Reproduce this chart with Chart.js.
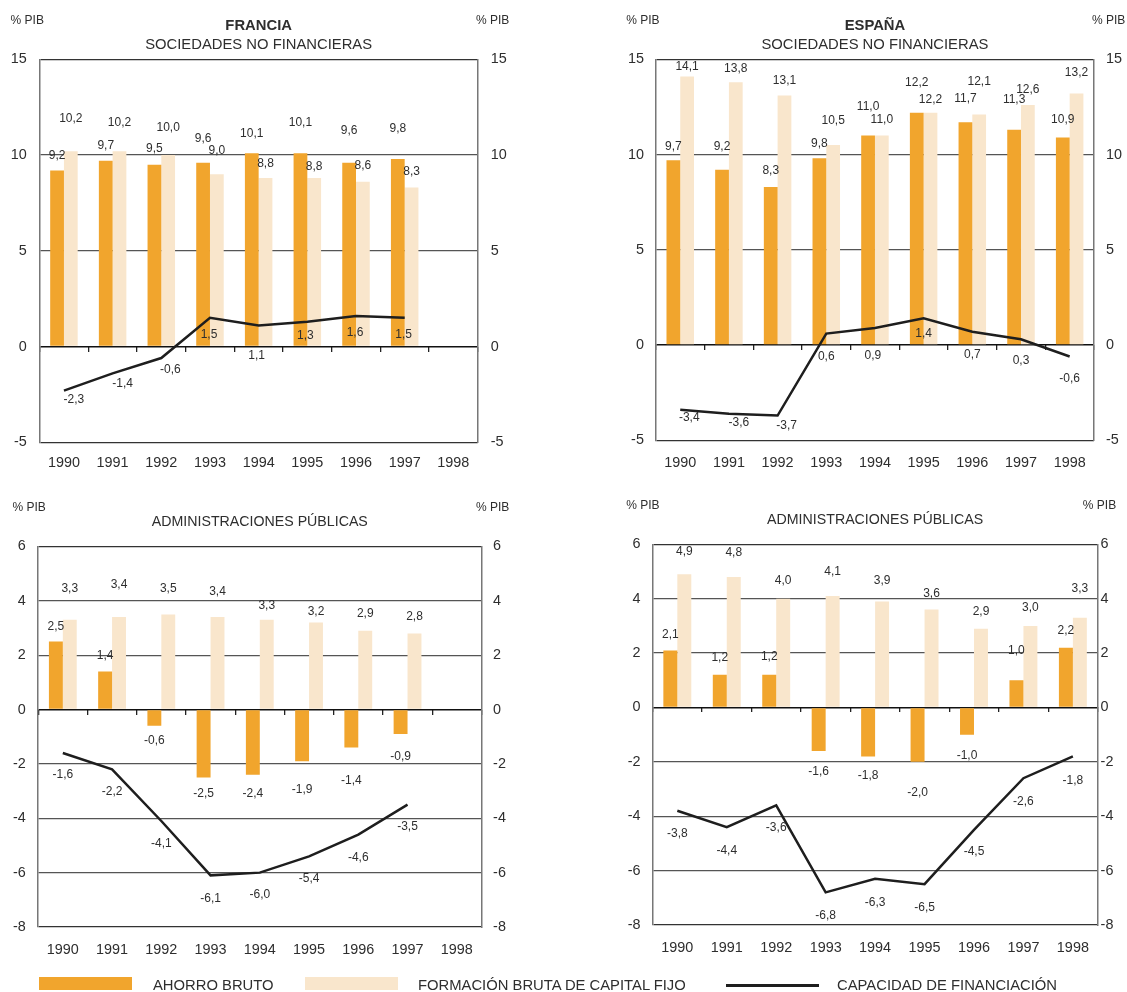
<!DOCTYPE html>
<html lang="es">
<head>
<meta charset="utf-8">
<title>Ahorro, inversión y capacidad de financiación — Francia y España</title>
<script src="https://cdn.jsdelivr.net/npm/chart.js@4.4.1/dist/chart.umd.min.js"></script>
<style>
  html, body { margin: 0; padding: 0; background: #ffffff; }
  body { width: 1127px; height: 992px; position: relative; overflow: hidden;
         font-family: "Liberation Sans", Arial, Helvetica, sans-serif; color: #2e2e2e; }
  canvas { position: absolute; }
  .swatch { position: absolute; top: 977px; height: 13px; width: 93px; }
  .keytext { position: absolute; top: 976px; line-height: 19px; font-size: 14.8px; white-space: nowrap; }
</style>
</head>
<body>
<canvas id="frSnf" width="560" height="480" style="left:0;top:0"></canvas>
<canvas id="esSnf" width="567" height="480" style="left:560px;top:0"></canvas>
<canvas id="frAp" width="560" height="512" style="left:0;top:480px"></canvas>
<canvas id="esAp" width="567" height="512" style="left:560px;top:480px"></canvas>

<div class="swatch" style="left:39px;background:#F1A52D"></div>
<div class="keytext" style="left:153px">AHORRO BRUTO</div>
<div class="swatch" style="left:305px;background:#F9E6CC"></div>
<div class="keytext" style="left:418px">FORMACIÓN BRUTA DE CAPITAL FIJO</div>
<div class="swatch" style="left:726px;top:984px;height:2.5px;background:#1e1e1e"></div>
<div class="keytext" style="left:837px">CAPACIDAD DE FINANCIACIÓN</div>

<script>
// ---- Data (% of GDP) ----
const years = ['1990', '1991', '1992', '1993', '1994', '1995', '1996', '1997', '1998'];

// Francia — sociedades no financieras
const frSnfAhorro    = [9.2, 9.7, 9.5, 9.6, 10.1, 10.1, 9.6, 9.8, null];
const frSnfFbcf      = [10.2, 10.2, 10.0, 9.0, 8.8, 8.8, 8.6, 8.3, null];
const frSnfCapacidad = [-2.3, -1.4, -0.6, 1.5, 1.1, 1.3, 1.6, 1.5, null];

// España — sociedades no financieras
const esSnfAhorro    = [9.7, 9.2, 8.3, 9.8, 11.0, 12.2, 11.7, 11.3, 10.9];
const esSnfFbcf      = [14.1, 13.8, 13.1, 10.5, 11.0, 12.2, 12.1, 12.6, 13.2];
const esSnfCapacidad = [-3.4, -3.6, -3.7, 0.6, 0.9, 1.4, 0.7, 0.3, -0.6];

// Francia — administraciones públicas
const frApAhorro    = [2.5, 1.4, -0.6, -2.5, -2.4, -1.9, -1.4, -0.9, null];
const frApFbcf      = [3.3, 3.4, 3.5, 3.4, 3.3, 3.2, 2.9, 2.8, null];
const frApCapacidad = [-1.6, -2.2, -4.1, -6.1, -6.0, -5.4, -4.6, -3.5, null];

// España — administraciones públicas
const esApAhorro    = [2.1, 1.2, 1.2, -1.6, -1.8, -2.0, -1.0, 1.0, 2.2];
const esApFbcf      = [4.9, 4.8, 4.0, 4.1, 3.9, 3.6, 2.9, 3.0, 3.3];
const esApCapacidad = [-3.8, -4.4, -3.6, -6.8, -6.3, -6.5, -4.5, -2.6, -1.8];

// Value-axis ticks
const snfTicks = [-5, 0, 5, 10, 15];
const apTicks  = [-8, -6, -4, -2, 0, 2, 4, 6];

// ---- Label nudges (px, relative to the end of each bar / each line point) ----
const frSnfNudge = {
  ahorro: [-15, -15, -16, -24, -19, -30, -32, -30, 0],
  fbcf:   [-33, -29, -27, -24, -14, -11, -16, -16, 0],
  capDy:  [9, 10, 12, 17, 30, 14, 17, 17, 0],
  capDx:  [10, 10, 9, -1, -2, -2, -1, -1, 0]
};
const esSnfNudge = {
  ahorro: [-14, -23, -16, -15, -29, -30, -23, -30, -18],
  fbcf:   [-10, -13, -15, -24, -16, -13, -33, -15, -21],
  capDy:  [8, 9, 10, 23, 28, 15, 23, 21, 22],
  capDx:  [9, 10, 9, 0, -2, 0, 0, 0, 0]
};
const frApNudge = {
  ahorro: [-15, -16, 15, 16, 19, 29, 33, 23, 0],
  fbcf:   [-31, -32, -26, -25, -14, -11, -17, -17, 0],
  capDy:  [22, 22, 23, 23, 22, 22, 23, 22, 0],
  capDx:  [0, 0, 0, 0, 0, 0, 0, 0, 0]
};
const esApNudge = {
  ahorro: [-16, -17, -18, 21, 19, 31, 21, -30, -17],
  fbcf:   [-23, -24, -18, -24, -21, -16, -17, -18, -29],
  capDy:  [23, 24, 22, 23, 24, 23, 22, 24, 24],
  capDx:  [0, 0, 0, 0, 0, 0, 0, 0, 0]
};

// ---- Styling ----
const FONT = '"Liberation Sans", Arial, Helvetica, sans-serif';
const TEXT = '#2e2e2e';
const ORANGE = '#F1A52D';
const CREAM = '#F9E6CC';
const LINE = '#1e1e1e';

const fmt = v => v.toFixed(1).replace('.', ',');

// Draws the value next to every bar end and line point
const valueLabels = {
  id: 'valueLabels',
  afterDatasetsDraw(chart) {
    const ctx = chart.ctx;
    ctx.save();
    ctx.font = '12px ' + FONT;
    ctx.fillStyle = TEXT;
    ctx.textAlign = 'center';
    ctx.textBaseline = 'middle';
    chart.data.datasets.forEach((ds, i) => {
      const meta = chart.getDatasetMeta(i);
      meta.data.forEach((el, j) => {
        const v = ds.data[j];
        if (v === null || v === undefined) return;
        const dx = ds.labelDx ? ds.labelDx[j] : 0;
        const dy = ds.labelDy ? ds.labelDy[j] : 0;
        ctx.fillText(fmt(v), el.x + dx, el.y + dy);
      });
    });
    ctx.restore();
  }
};

// "% PIB" unit captions above both value axes
const unitCaptions = {
  id: 'unitCaptions',
  afterDraw(chart, args, opts) {
    const ctx = chart.ctx;
    ctx.save();
    ctx.font = '12px ' + FONT;
    ctx.fillStyle = TEXT;
    ctx.textAlign = 'left';
    ctx.textBaseline = 'middle';
    ctx.fillText(opts.text, opts.left[0], opts.left[1]);
    ctx.fillText(opts.text, opts.right[0], opts.right[1]);
    ctx.restore();
  }
};

function panel(id, p) {
  const tickFont = { family: FONT, size: 14.4 };
  const yTicks = p.ticks;
  const yMin = yTicks[0], yMax = yTicks[yTicks.length - 1];
  const yStep = yTicks[1] - yTicks[0];

  const plugins = {
    legend: { display: false },
    tooltip: { enabled: false },
    unitCaptions: { text: '% PIB', left: p.pibLeft, right: p.pibRight },
    title: {
      display: true,
      text: p.title,
      fullSize: false,
      color: TEXT,
      font: { family: FONT, size: p.titleSize, weight: p.titleBold ? 'bold' : 'normal', lineHeight: 1.2 },
      padding: p.titlePad
    }
  };
  if (p.subtitle) {
    plugins.subtitle = {
      display: true,
      text: p.subtitle,
      fullSize: false,
      color: TEXT,
      font: { family: FONT, size: p.subtitleSize, weight: 'normal', lineHeight: 1.2 },
      padding: p.subtitlePad
    };
  }

  return new Chart(document.getElementById(id), {
    type: 'bar',
    data: {
      labels: years,
      datasets: [
        {
          type: 'line',
          label: 'CAPACIDAD DE FINANCIACIÓN',
          data: p.capacidad,
          borderColor: LINE,
          borderWidth: 2.5,
          pointRadius: 0,
          tension: 0,
          fill: false,
          order: 0,
          labelDy: p.nudge.capDy,
          labelDx: p.nudge.capDx
        },
        {
          label: 'AHORRO BRUTO',
          data: p.ahorro,
          backgroundColor: ORANGE,
          borderWidth: 0,
          barPercentage: 1,
          categoryPercentage: 0.565,
          order: 1,
          labelDy: p.nudge.ahorro
        },
        {
          label: 'FORMACIÓN BRUTA DE CAPITAL FIJO',
          data: p.fbcf,
          backgroundColor: CREAM,
          borderWidth: 0,
          barPercentage: 1,
          categoryPercentage: 0.565,
          order: 1,
          labelDy: p.nudge.fbcf
        }
      ]
    },
    options: {
      responsive: false,
      animation: false,
      devicePixelRatio: 1,
      layout: { padding: 0 },
      plugins,
      scales: {
        x: {
          type: 'category',
          position: 'bottom',
          offset: true,
          grid: { display: false, drawTicks: false },
          border: { display: false },
          ticks: { color: TEXT, font: tickFont, padding: p.xPad, maxRotation: 0, autoSkip: false },
          afterFit: s => { s.height = p.xHeight; }
        },
        xz: {
          type: 'category',
          position: { y: 0 },
          offset: true,
          grid: { offset: true, drawOnChartArea: false, drawTicks: true, tickLength: 5, color: '#222', lineWidth: 1.3 },
          border: { display: false },
          ticks: { display: false }
        },
        y: {
          position: 'left',
          min: yMin, max: yMax,
          ticks: { stepSize: yStep, color: TEXT, font: tickFont, padding: p.yLeftPad },
          grid: {
            drawTicks: false,
            color: c => (c.tick && c.tick.value === 0) ? '#111' : ((c.tick && (c.tick.value === yMin || c.tick.value === yMax)) ? '#333' : '#555'),
            lineWidth: c => (c.tick && c.tick.value === 0) ? 1.6 : 1.3
          },
          border: { display: true, color: '#777', width: 1.5 },
          afterFit: s => { s.width = p.yLeftWidth; }
        },
        y2: {
          position: 'right',
          min: yMin, max: yMax,
          ticks: { stepSize: yStep, color: TEXT, font: tickFont, padding: p.yRightPad },
          grid: { drawOnChartArea: false, drawTicks: false },
          border: { display: true, color: '#777', width: 1.5 },
          afterFit: s => { s.width = p.yRightWidth; }
        }
      }
    },
    plugins: [valueLabels, unitCaptions]
  });
}

panel('frSnf', {
  title: 'FRANCIA', titleBold: true, titleSize: 14.8, titlePad: { top: 17, bottom: 0 },
  subtitle: 'SOCIEDADES NO FINANCIERAS', subtitleSize: 14.8, subtitlePad: { top: 1, bottom: 5.8 },
  ticks: snfTicks,
  ahorro: frSnfAhorro, fbcf: frSnfFbcf, capacidad: frSnfCapacidad, nudge: frSnfNudge,
  yLeftWidth: 39.6, yLeftPad: 12.8, yRightWidth: 82.3, yRightPad: 13,
  xHeight: 37.7, xPad: 12.3,
  pibLeft: [10.6, 20.5], pibRight: [476, 20.5]
});

panel('esSnf', {
  title: 'ESPAÑA', titleBold: true, titleSize: 14.8, titlePad: { top: 17, bottom: 0 },
  subtitle: 'SOCIEDADES NO FINANCIERAS', subtitleSize: 14.8, subtitlePad: { top: 1, bottom: 5.8 },
  ticks: snfTicks,
  ahorro: esSnfAhorro, fbcf: esSnfFbcf, capacidad: esSnfCapacidad, nudge: esSnfNudge,
  yLeftWidth: 95.9, yLeftPad: 12, yRightWidth: 33, yRightPad: 12,
  xHeight: 39.7, xPad: 14,
  pibLeft: [66.2, 20.5], pibRight: [532, 20.5]
});

panel('frAp', {
  title: 'ADMINISTRACIONES PÚBLICAS', titleBold: false, titleSize: 14.2, titlePad: { top: 33.2, bottom: 16.2 },
  ticks: apTicks,
  ahorro: frApAhorro, fbcf: frApFbcf, capacidad: frApCapacidad, nudge: frApNudge,
  yLeftWidth: 38.2, yLeftPad: 12.5, yRightWidth: 78.6, yRightPad: 11.7,
  xHeight: 65, xPad: 13.9,
  pibLeft: [12.5, 27.5], pibRight: [476, 27.5]
});

panel('esAp', {
  title: 'ADMINISTRACIONES PÚBLICAS', titleBold: false, titleSize: 14.2, titlePad: { top: 31.5, bottom: 15.8 },
  ticks: apTicks,
  ahorro: esApAhorro, fbcf: esApFbcf, capacidad: esApCapacidad, nudge: esApNudge,
  yLeftWidth: 92.6, yLeftPad: 12, yRightWidth: 29.4, yRightPad: 3,
  xHeight: 67, xPad: 13.9,
  pibLeft: [66.2, 26], pibRight: [522.8, 26]
});
</script>
</body>
</html>
